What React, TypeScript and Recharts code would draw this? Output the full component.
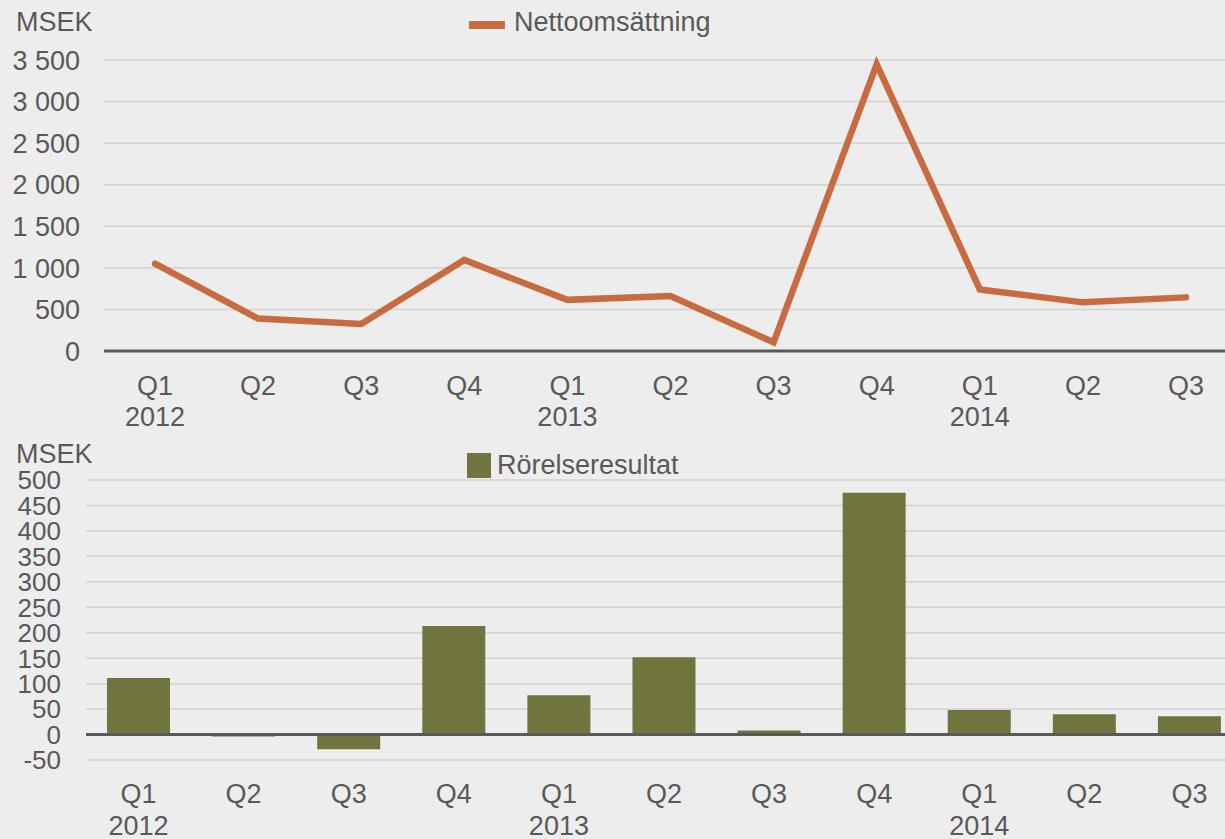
import React from "react";
import {
  LineChart, Line, BarChart, Bar, XAxis, YAxis, CartesianGrid, ReferenceLine,
} from "recharts";

const QUARTERS = ["Q1", "Q2", "Q3", "Q4", "Q1", "Q2", "Q3", "Q4", "Q1", "Q2", "Q3"];
const YEARS = ["2012", "", "", "", "2013", "", "", "", "2014", "", ""];
const NET_SALES = [1050, 390, 325, 1095, 615, 660, 105, 3450, 740, 585, 645];
const OP_RESULT = [111, -4, -29, 213, 77, 152, 8, 475, 48, 40, 36];
const SALES_TICKS = [0, 500, 1000, 1500, 2000, 2500, 3000, 3500];
const RESULT_TICKS = [-50, 0, 50, 100, 150, 200, 250, 300, 350, 400, 450, 500];

const FONT = "'Liberation Sans', Arial, sans-serif";
const FS = 27;
const TEXT = "#595959";
const GRID = "#d2d2d2";
const LINE_COLOR = "#c96b40";
const BAR_COLOR = "#71753d";

const data = QUARTERS.map((q, i) => ({
  key: `p${i}`,
  q,
  year: YEARS[i],
  sales: NET_SALES[i],
  result: OP_RESULT[i],
}));

const fmt = (v: number) => String(v).replace(/\B(?=(\d{3})+(?!\d))/g, " ");

function makeYTick(right: number, size: number) {
  return (props: any) => (
    <text x={right} y={props.y} dy="0.36em" textAnchor="end" fontSize={size} fill={TEXT} fontFamily={FONT}>
      {fmt(props.payload.value)}
    </text>
  );
}

function makeXTick(qY: number, yearY: number) {
  return (props: any) => {
    const d = data[props.index];
    return (
      <g>
        <text x={props.x} y={qY} dy="0.36em" textAnchor="middle" fontSize={FS} fill={TEXT} fontFamily={FONT}>
          {d.q}
        </text>
        {d.year && (
          <text x={props.x} y={yearY} dy="0.36em" textAnchor="middle" fontSize={FS} fill={TEXT} fontFamily={FONT}>
            {d.year}
          </text>
        )}
      </g>
    );
  };
}

const labelStyle: React.CSSProperties = {
  position: "absolute",
  fontFamily: FONT,
  fontSize: FS,
  color: TEXT,
  lineHeight: 1,
  whiteSpace: "nowrap",
};

export default function App() {
  return (
    <div style={{ position: "fixed", left: 0, top: 0, width: 1225, height: 839, overflow: "hidden", background: "#ededed" }}>
      <div style={{ position: "absolute", left: 0, top: 0 }}>
        <LineChart width={1240} height={440} data={data} margin={{ top: 60, right: 3, left: 0, bottom: 0 }}>
          <CartesianGrid vertical={false} stroke={GRID} strokeWidth={1.5} />
          <XAxis
            dataKey="key"
            height={89}
            padding={{ left: 51, right: 51 }}
            axisLine={{ stroke: TEXT, strokeWidth: 3 }}
            tickLine={false}
            interval={0}
            tick={makeXTick(385, 416)}
          />
          <YAxis
            width={104}
            domain={[0, 3500]}
            ticks={SALES_TICKS}
            interval={0}
            axisLine={false}
            tickLine={false}
            tick={makeYTick(80, FS)}
          />
          <Line
            type="linear"
            dataKey="sales"
            stroke={LINE_COLOR}
            strokeWidth={6.5}
            strokeLinecap="round"
            dot={false}
            isAnimationActive={false}
          />
        </LineChart>
      </div>
      <div style={{ ...labelStyle, left: 16, top: 9 }}>MSEK</div>
      <div style={{ ...labelStyle, left: 469, top: 9, display: "flex", alignItems: "center" }}>
        <span style={{ display: "inline-block", width: 36, height: 8, background: LINE_COLOR, marginRight: 9, marginTop: 4 }} />
        <span>Nettoomsättning</span>
      </div>

      <div style={{ position: "absolute", left: 0, top: 430 }}>
        <BarChart width={1245} height={409} data={data} margin={{ top: 50, right: 3, left: 0, bottom: 0 }} barCategoryGap="20%">
          <CartesianGrid vertical={false} stroke={GRID} strokeWidth={1.5} />
          <XAxis
            dataKey="key"
            height={79}
            axisLine={false}
            tickLine={false}
            interval={0}
            tick={makeXTick(363, 395)}
          />
          <YAxis
            width={86}
            domain={[-50, 500]}
            ticks={RESULT_TICKS}
            interval={0}
            axisLine={false}
            tickLine={false}
            tick={makeYTick(61, 26)}
          />
          <Bar dataKey="result" fill={BAR_COLOR} isAnimationActive={false} />
          <ReferenceLine y={0} stroke={TEXT} strokeWidth={3} />
        </BarChart>
      </div>
      <div style={{ ...labelStyle, left: 16, top: 441 }}>MSEK</div>
      <div style={{ ...labelStyle, left: 467, top: 452, display: "flex", alignItems: "center" }}>
        <span style={{ display: "inline-block", width: 24, height: 25, background: BAR_COLOR, marginRight: 6 }} />
        <span>Rörelseresultat</span>
      </div>
    </div>
  );
}
